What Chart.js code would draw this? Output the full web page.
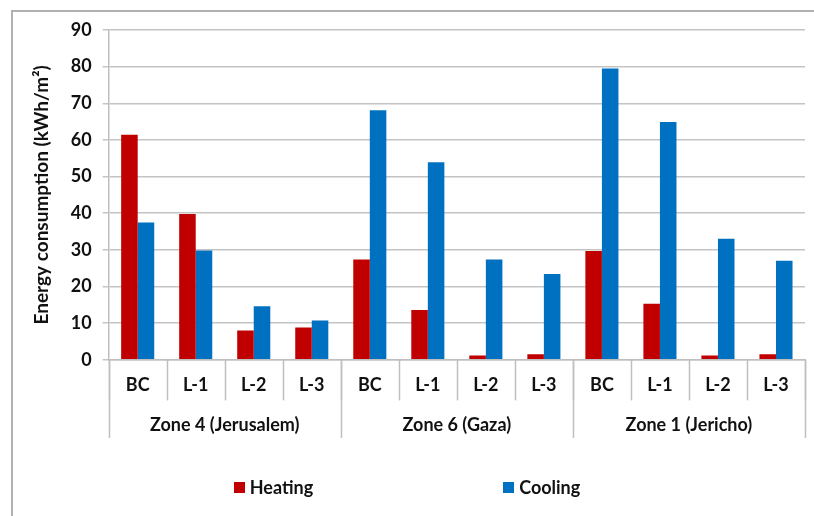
<!DOCTYPE html>
<html>
<head>
<meta charset="utf-8">
<script src="https://cdn.jsdelivr.net/npm/chart.js@4.4.0/dist/chart.umd.min.js"></script>
<style>
    body { margin: 0; background: #fff; }
    #wrap { position: relative; width: 814px; height: 516px; overflow: hidden; }
    #frame {
        position: absolute; left: 11px; top: 10px; width: 840px; height: 540px;
        border-left: 2px solid #b0b0b0; border-top: 2px solid #b0b0b0;
    }
    #chart { position: absolute; left: 0; top: 0; }
    #legend {
        position: absolute; left: 0; top: 476px; width: 814px;
        display: flex; justify-content: center; gap: 190px;
        font-family: Lato, sans-serif; font-weight: bold; font-size: 18px; color: #111;
    }
    .item { display: flex; align-items: center; }
    .box { width: 11px; height: 11px; margin-right: 5px; }
</style>
</head>
<body>
<div id="wrap">
    <div id="frame"></div>
    <canvas id="chart" width="814" height="516"></canvas>
    <div id="legend"></div>
</div>
<script>
const cases = ["BC", "L-1", "L-2", "L-3", "BC", "L-1", "L-2", "L-3", "BC", "L-1", "L-2", "L-3"];
const zones = ["Zone 4 (Jerusalem)", "Zone 6 (Gaza)", "Zone 1 (Jericho)"];
const heating = [61.4, 39.8, 8.0, 8.8, 27.4, 13.6, 1.2, 1.5, 29.7, 15.3, 1.2, 1.5];
const cooling = [37.5, 29.8, 14.6, 10.7, 68.1, 53.9, 27.4, 23.4, 79.5, 64.9, 33.0, 27.0];
const seriesNames = ["Heating", "Cooling"];
const seriesColors = ["#C00000", "#0070C0"];

const axisFont = { family: "Lato, sans-serif", size: 18, weight: "bold" };
const lineColor = "#bfbfbf";

// vertical separators below the plot: short ones between cases, long ones between zones
const separators = {
    id: "separators",
    afterDraw(chart) {
        const x = chart.scales.x;
        const x2 = chart.scales.x2;
        const c = chart.ctx;
        const top = chart.chartArea.bottom;
        c.save();
        c.strokeStyle = lineColor;
        c.lineWidth = 1.5;
        const caseW = (x.right - x.left) / cases.length;
        for (let i = 0; i <= cases.length; i++) {
            const px = Math.round(x.left + i * caseW) + 0.5;
            c.beginPath();
            c.moveTo(px, top);
            c.lineTo(px, x.bottom - 11);
            c.stroke();
        }
        const zoneW = (x2.right - x2.left) / zones.length;
        for (let i = 0; i <= zones.length; i++) {
            const px = Math.round(x2.left + i * zoneW) + 0.5;
            c.beginPath();
            c.moveTo(px, top);
            c.lineTo(px, x2.bottom - 1);
            c.stroke();
        }
        c.restore();
    },
};

const ctx = document.getElementById("chart").getContext("2d");
new Chart(ctx, {
    type: "bar",
    data: {
        labels: cases,
        datasets: [
            {
                label: seriesNames[0],
                data: heating,
                backgroundColor: seriesColors[0],
                barPercentage: 1,
                categoryPercentage: 0.57,
            },
            {
                label: seriesNames[1],
                data: cooling,
                backgroundColor: seriesColors[1],
                barPercentage: 1,
                categoryPercentage: 0.57,
            },
        ],
    },
    options: {
        responsive: false,
        animation: false,
        layout: {
            padding: { left: 30, right: 9, top: 30, bottom: 77 },
        },
        plugins: {
            legend: { display: false },
            tooltip: { enabled: false },
        },
        scales: {
            x: {
                type: "category",
                position: "bottom",
                grid: { display: false, drawTicks: false },
                border: { color: lineColor, width: 1.5 },
                ticks: {
                    color: "#111",
                    font: axisFont,
                    padding: 15,
                    maxRotation: 0,
                    autoSkip: false,
                },
            },
            x2: {
                type: "category",
                position: "bottom",
                labels: zones,
                grid: { display: false, drawTicks: false },
                border: { display: false },
                ticks: {
                    color: "#111",
                    font: axisFont,
                    padding: 3,
                    maxRotation: 0,
                    autoSkip: false,
                },
            },
            y: {
                min: 0,
                max: 90,
                grid: {
                    color: "#c4c4c4",
                    lineWidth: 1.5,
                    tickLength: 6,
                },
                border: { color: lineColor, width: 1.5 },
                ticks: {
                    stepSize: 10,
                    color: "#111",
                    font: axisFont,
                    padding: 11,
                },
                title: {
                    display: true,
                    text: "Energy consumption (kWh/m²)",
                    color: "#111",
                    font: { family: "Lato, sans-serif", size: 19, weight: "bold" },
                    padding: { top: 0, bottom: 7 },
                },
            },
        },
    },
    plugins: [separators],
});

const legend = document.getElementById("legend");
seriesNames.forEach((name, i) => {
    const item = document.createElement("div");
    item.className = "item";
    const box = document.createElement("span");
    box.className = "box";
    box.style.background = seriesColors[i];
    const text = document.createElement("span");
    text.textContent = name;
    item.appendChild(box);
    item.appendChild(text);
    legend.appendChild(item);
});
</script>
</body>
</html>
